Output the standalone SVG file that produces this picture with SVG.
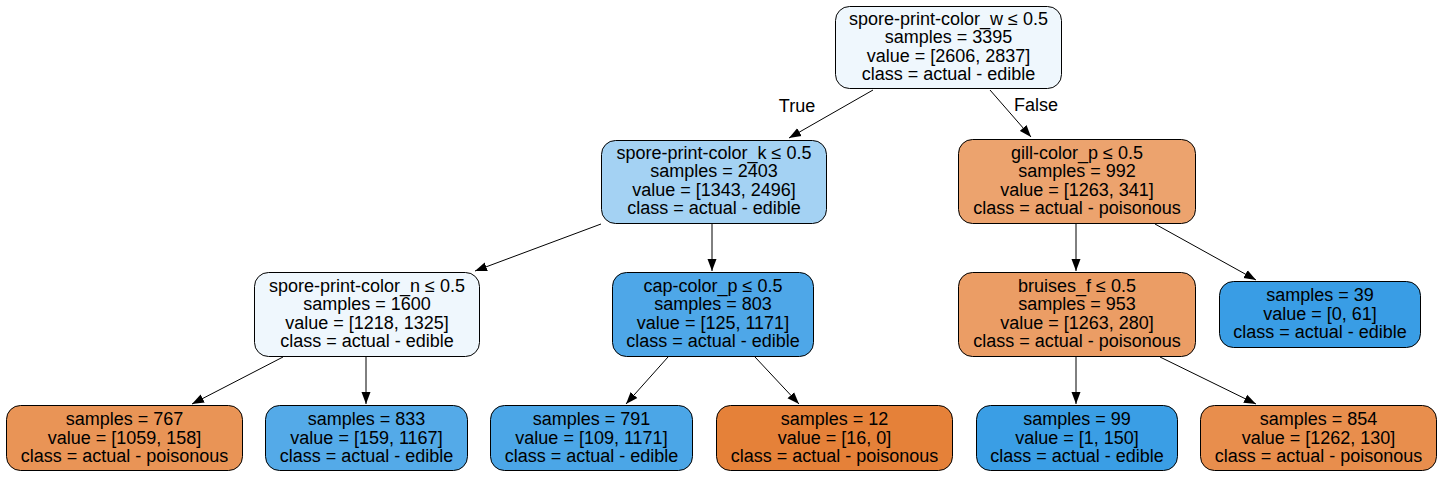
<svg xmlns="http://www.w3.org/2000/svg" width="1443" height="477" viewBox="0 0 1443 477">
<defs>
<marker id="arr" viewBox="0 0 12 10" refX="12" refY="5" markerWidth="12" markerHeight="10" markerUnits="userSpaceOnUse" orient="auto">
<path d="M0,0.5 L12,5 L0,9.5 Z" fill="#000"/>
</marker>
<style>
.n rect{stroke:#000;stroke-width:1}
.n text{font-family:"Liberation Sans",Arial,sans-serif;font-size:18px;fill:#000;text-anchor:middle}
.e line{stroke:#000;stroke-width:1;marker-end:url(#arr)}
.lbl{font-family:"Liberation Sans",Arial,sans-serif;font-size:18px;fill:#000;text-anchor:middle}
</style>
</defs>
<rect width="1443" height="477" fill="#fff"/>
<g id="edges" class="e">
<line x1="873" y1="90" x2="789" y2="138"/>
<line x1="990" y1="90" x2="1031" y2="137"/>
<line x1="601" y1="224" x2="475" y2="271"/>
<line x1="712" y1="224" x2="712" y2="271"/>
<line x1="1076" y1="224" x2="1076" y2="271"/>
<line x1="1155" y1="224" x2="1256" y2="280"/>
<line x1="283" y1="357" x2="192" y2="404"/>
<line x1="366" y1="357" x2="366" y2="404"/>
<line x1="668" y1="357" x2="626" y2="404"/>
<line x1="755" y1="357" x2="799" y2="404"/>
<line x1="1076" y1="357" x2="1076" y2="404"/>
<line x1="1160" y1="357" x2="1256" y2="404"/>
<text class="lbl" x="797" y="111.5">True</text>
<text class="lbl" x="1036" y="110.5">False</text>
</g>
<g id="node0" class="n"><rect x="835.5" y="6.5" width="226" height="82" rx="14" fill="#eff7fd"/>
<text x="948.5" y="24.5">spore-print-color_w ≤ 0.5</text><text x="948.5" y="43">samples = 3395</text><text x="948.5" y="61.5">value = [2606, 2837]</text><text x="948.5" y="80">class = actual - edible</text></g>
<g id="node1" class="n"><rect x="601.5" y="140.5" width="225" height="83" rx="14" fill="#a4d2f3"/>
<text x="714" y="158.5">spore-print-color_k ≤ 0.5</text><text x="714" y="177">samples = 2403</text><text x="714" y="195.5">value = [1343, 2496]</text><text x="714" y="214">class = actual - edible</text></g>
<g id="node2" class="n"><rect x="958.5" y="139.5" width="237" height="84" rx="14" fill="#eca36e"/>
<text x="1077" y="158.5">gill-color_p ≤ 0.5</text><text x="1077" y="177">samples = 992</text><text x="1077" y="195.5">value = [1263, 341]</text><text x="1077" y="214">class = actual - poisonous</text></g>
<g id="node3" class="n"><rect x="254.5" y="272.5" width="225" height="84" rx="14" fill="#eff7fd"/>
<text x="367" y="291.5">spore-print-color_n ≤ 0.5</text><text x="367" y="310">samples = 1600</text><text x="367" y="328.5">value = [1218, 1325]</text><text x="367" y="347">class = actual - edible</text></g>
<g id="node4" class="n"><rect x="612.5" y="272.5" width="201" height="84" rx="14" fill="#4ea7e8"/>
<text x="713" y="291.5">cap-color_p ≤ 0.5</text><text x="713" y="310">samples = 803</text><text x="713" y="328.5">value = [125, 1171]</text><text x="713" y="347">class = actual - edible</text></g>
<g id="node5" class="n"><rect x="958.5" y="272.5" width="237" height="84" rx="14" fill="#eb9d65"/>
<text x="1077" y="291.5">bruises_f ≤ 0.5</text><text x="1077" y="310">samples = 953</text><text x="1077" y="328.5">value = [1263, 280]</text><text x="1077" y="347">class = actual - poisonous</text></g>
<g id="node6" class="n"><rect x="1219.5" y="281.5" width="201" height="66" rx="14" fill="#399de5"/>
<text x="1320" y="301">samples = 39</text><text x="1320" y="319.5">value = [0, 61]</text><text x="1320" y="338">class = actual - edible</text></g>
<g id="leaf1" class="n"><rect x="6.5" y="405.5" width="236" height="65" rx="14" fill="#e99456"/>
<text x="124.5" y="425">samples = 767</text><text x="124.5" y="443.5">value = [1059, 158]</text><text x="124.5" y="462">class = actual - poisonous</text></g>
<g id="leaf2" class="n"><rect x="265.5" y="405.5" width="202" height="65" rx="14" fill="#54aae8"/>
<text x="366.5" y="425">samples = 833</text><text x="366.5" y="443.5">value = [159, 1167]</text><text x="366.5" y="462">class = actual - edible</text></g>
<g id="leaf3" class="n"><rect x="490.5" y="405.5" width="202" height="65" rx="14" fill="#4ba6e7"/>
<text x="591.5" y="425">samples = 791</text><text x="591.5" y="443.5">value = [109, 1171]</text><text x="591.5" y="462">class = actual - edible</text></g>
<g id="leaf4" class="n"><rect x="716.5" y="405.5" width="236" height="65" rx="14" fill="#e58139"/>
<text x="834.5" y="425">samples = 12</text><text x="834.5" y="443.5">value = [16, 0]</text><text x="834.5" y="462">class = actual - poisonous</text></g>
<g id="leaf5" class="n"><rect x="976.5" y="405.5" width="201" height="65" rx="14" fill="#3a9ee5"/>
<text x="1077" y="425">samples = 99</text><text x="1077" y="443.5">value = [1, 150]</text><text x="1077" y="462">class = actual - edible</text></g>
<g id="leaf6" class="n"><rect x="1200.5" y="405.5" width="236" height="65" rx="14" fill="#e88e4d"/>
<text x="1318.5" y="425">samples = 854</text><text x="1318.5" y="443.5">value = [1262, 130]</text><text x="1318.5" y="462">class = actual - poisonous</text></g>
</svg>
